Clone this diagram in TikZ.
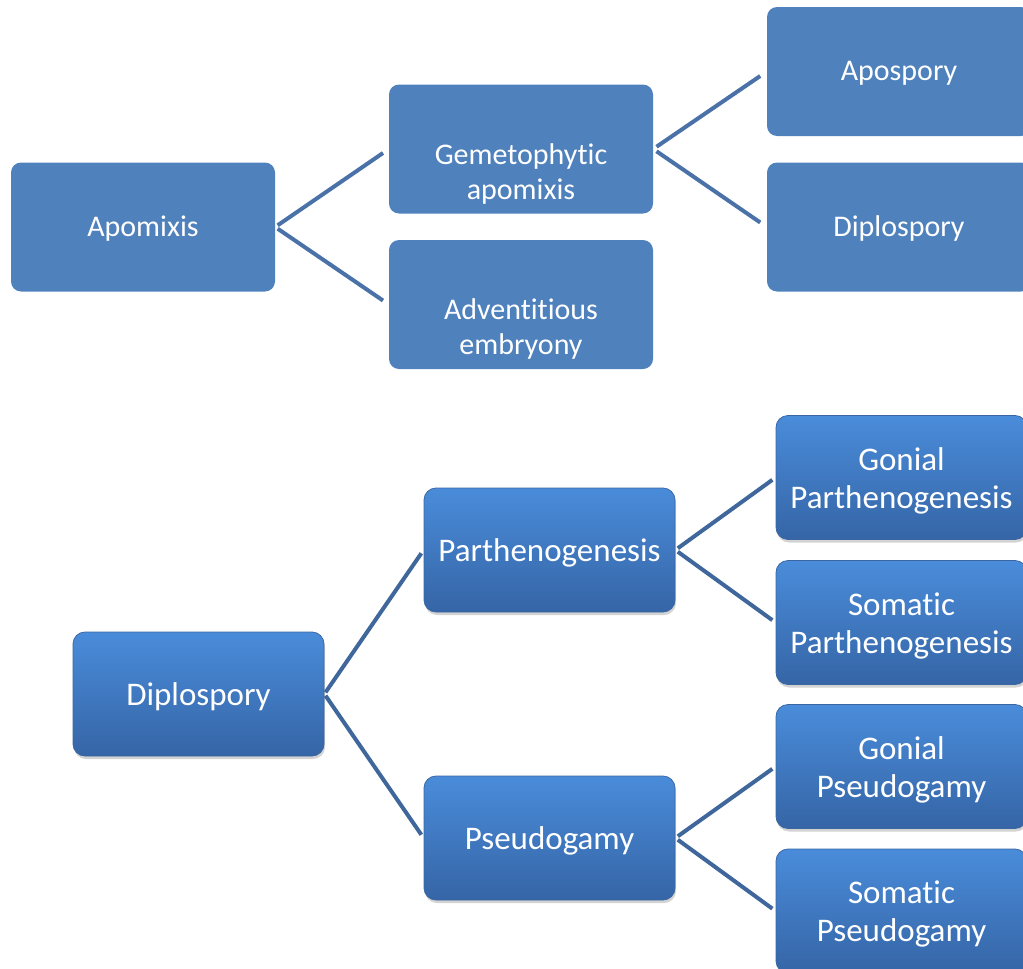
\documentclass[tikz,border=0pt]{standalone}
\usepackage{fontspec}
\setmainfont{Carlito}[Ligatures=NoCommon]
\usetikzlibrary{shadows}
\definecolor{flatblue}{HTML}{4F81BD}
\definecolor{linkblue}{HTML}{4A72A8}
\definecolor{linkdark}{HTML}{3F679C}
\definecolor{gradtop}{HTML}{4A8CDA}
\definecolor{gradbot}{HTML}{3565A6}
\definecolor{gradedge}{HTML}{3A67A3}
\begin{document}
\begin{tikzpicture}[x=1pt,y=-1pt,
 flatbox/.style={fill=flatblue, rounded corners=10pt, minimum width=264pt, minimum height=129pt, inner sep=0pt},
 ftext/.style={text=white, font=\fontsize{30}{35}\selectfont, align=center, inner sep=0pt},
 gradbox/.style={top color=gradtop, bottom color=gradbot, draw=gradedge, line width=0.8pt, rounded corners=12pt, minimum width=251pt, minimum height=124pt, text=white, font=\fontsize{33}{38}\selectfont, align=center, inner sep=0pt, drop shadow={shadow xshift=1pt, shadow yshift=-3pt, opacity=0.35}},
 gtext/.style={text=white, font=\fontsize{33}{38}\selectfont, align=center, inner sep=0pt},
 link/.style={draw=linkblue, line width=4pt},
 linkb/.style={draw=linkdark, line width=4pt}]
\useasboundingbox (0,0) rectangle (1023,969);
% top diagram
\node[flatbox, label={[ftext, yshift=-2pt]center:Apomixis}] (apo) at (143,227) {};
\node[flatbox, label={[ftext, yshift=-24.5pt]center:{Gemetophytic\\apomixis}}] (gem) at (521,149) {};
\node[flatbox, label={[ftext, yshift=-24pt]center:{Adventitious\\embryony}}] (adv) at (521,304.5) {};
\node[flatbox, label={[ftext, yshift=-2pt]center:Apospory}] (aps) at (899,71.5) {};
\node[flatbox, label={[ftext, yshift=-1.5pt]center:Diplospory}] (dip) at (899,227) {};
\draw[link, shorten <=3pt, shorten >=7pt] (apo.east) -- (gem.west);
\draw[link, shorten <=3pt, shorten >=7pt] (apo.east) -- (adv.west);
\draw[link, shorten <=4pt, shorten >=8pt] (gem.east) -- (aps.west);
\draw[link, shorten <=4pt, shorten >=8pt] (gem.east) -- (dip.west);
% bottom diagram
\node[gradbox, label={[gtext, yshift=-3pt]center:Diplospory}] (dip2) at (198.5,694) {};
\node[gradbox, label={[gtext, yshift=-3pt]center:Parthenogenesis}] (par) at (549.5,550) {};
\node[gradbox, label={[gtext, yshift=-3pt]center:Pseudogamy}] (pse) at (549.5,838) {};
\node[gradbox, label={[gtext, yshift=-3pt]center:{Gonial\\Parthenogenesis}}] (gpar) at (901.5,477.5) {};
\node[gradbox, label={[gtext, yshift=-3pt]center:{Somatic\\Parthenogenesis}}] (spar) at (901.5,622.5) {};
\node[gradbox, label={[gtext, yshift=-3pt]center:{Gonial\\Pseudogamy}}] (gpse) at (901.5,766.5) {};
\node[gradbox, label={[gtext, yshift=-3pt]center:{Somatic\\Pseudogamy}}] (spse) at (901.5,911) {};
\draw[linkb, shorten <=2pt, shorten >=4pt] (dip2.east) -- (par.west);
\draw[linkb, shorten <=2pt, shorten >=4pt] (dip2.east) -- (pse.west);
\draw[linkb, shorten <=3pt, shorten >=4pt] (par.east) -- (gpar.west);
\draw[linkb, shorten <=3pt, shorten >=4pt] (par.east) -- (spar.west);
\draw[linkb, shorten <=3pt, shorten >=4pt] (pse.east) -- (gpse.west);
\draw[linkb, shorten <=3pt, shorten >=4pt] (pse.east) -- (spse.west);
\end{tikzpicture}
\end{document}
